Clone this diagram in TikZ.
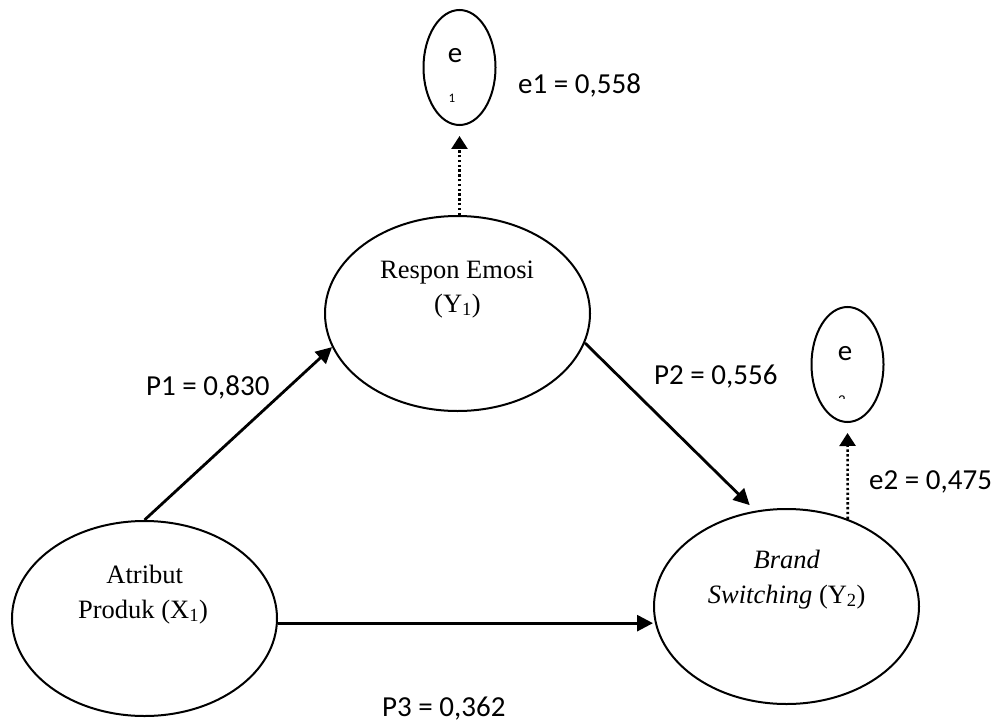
\documentclass[tikz,border=0pt]{standalone}
\usepackage{fontspec}
\setmainfont{Liberation Serif}
\newfontfamily\calib{Carlito}
\usetikzlibrary{shapes.geometric,arrows.meta}
\begin{document}
\begin{tikzpicture}[x=1pt,y=-1pt,
 bigell/.style={ellipse,draw,line width=2pt,minimum width=265pt,minimum height=195pt,inner sep=0pt},
 errell/.style={ellipse,draw,line width=2pt,minimum width=72pt,minimum height=115pt,inner sep=0pt},
 serif/.style={font=\fontsize{26.5}{30}\selectfont,inner sep=0pt,anchor=base},
 lab/.style={font=\calib\fontsize{29}{33}\selectfont,inner sep=0pt,anchor=base west},
 elab/.style={font=\calib\fontsize{29}{33}\selectfont,inner sep=0pt,anchor=base},
 solidarrow/.style={line width=2.8pt,-{Triangle[length=16pt,width=16pt]}},
 dotarrow/.style={line width=2.6pt,dash pattern=on 2.4pt off 2.4pt,-{Triangle[length=13pt,width=16pt]}}]
\useasboundingbox (0,0) rectangle (998,722);
% main latent variables
\node[bigell] (R) at (457.5,313.5) {};
\node[bigell] (A) at (144.5,618.5) {};
\node[bigell] (B) at (786.5,606.5) {};
% error terms
\node[errell] (E1) at (459.5,67.5) {};
\node[errell] (E2) at (847.5,364.5) {};
% texts inside
\node[serif] (rt1) at (457,278) {Respon Emosi};
\node[serif] (rt2) at (457.5,312) {(Y\textsubscript{1})};
\node[serif] (at1) at (144.7,583) {Atribut};
\node[serif] (at2) at (143,618) {Produk (X\textsubscript{1})};
\node[serif] (bt1) at (786.7,568) {\itshape Brand};
\node[serif] (bt2) at (786.7,603) {\textit{Switching} (Y\textsubscript{2})};
\node[elab] (e1t) at (455,63) {e};
\node[font=\calib\fontsize{13}{15}\selectfont,inner sep=0pt,anchor=base] (e1s) at (452,103) {1};
\node[elab] (e2t) at (845,360) {e};
\begin{scope}
\clip (830,380) rectangle (860,398.5);
\node[font=\calib\fontsize{15}{17}\selectfont,inner sep=0pt,anchor=base] (e2s) at (842,405) {2};
\end{scope}
% labels
\node[lab] (l1) at (518,94) {e1 = 0,558};
\node[lab] (lp1) at (146,395) {P1 = 0,830};
\node[lab] (lp2) at (654,384) {P2 = 0,556};
\node[lab] (l2) at (869,489) {e2 = 0,475};
\node[lab] (lp3) at (382,716) {P3 = 0,362};
% connectors
\draw[solidarrow] (A.north) -- (R.195);
\draw[solidarrow,shorten >=8pt] (R.347) -- (B.108);
\draw[solidarrow] (A.-2) -- (A.-2 -| B.west);
\draw[dotarrow,shorten >=10pt] (R.north -| E1.south) -- (E1.south);
\draw[dotarrow,shorten >=10pt] (B.55) -- (E2.south);
\end{tikzpicture}
\end{document}
